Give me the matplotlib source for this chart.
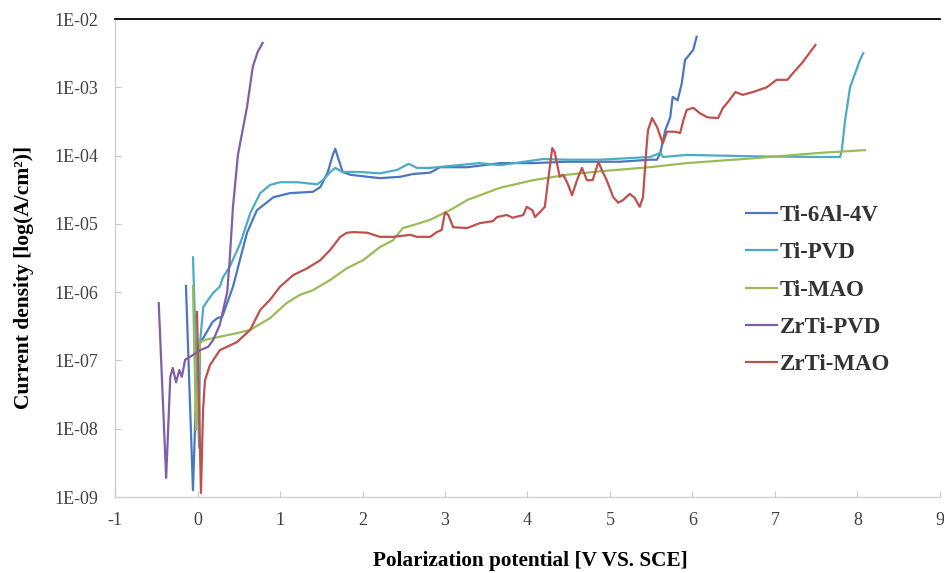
import numpy as np
import matplotlib
matplotlib.use("Agg")
import matplotlib.pyplot as plt

# potential (V vs SCE) and log10 of current density (A/cm2)
ti64_v = [-0.14, -0.055, -0.02, 0.02, 0.09, 0.18, 0.24, 0.30, 0.43, 0.60, 0.72, 0.92,
          1.12, 1.40, 1.49, 1.58, 1.64, 1.67, 1.70, 1.76, 1.85, 2.06, 2.21, 2.46, 2.61,
          2.82, 2.94, 3.27, 3.67, 4.07, 4.48, 4.88, 5.12, 5.49, 5.57, 5.61, 5.67, 5.73,
          5.76, 5.82, 5.87, 5.91, 6.01, 6.05]
ti64_log = [-5.91, -8.90, -7.60, -6.77, -6.63, -6.44, -6.38, -6.36, -5.92, -5.13, -4.80, -4.61,
            -4.55, -4.53, -4.46, -4.24, -3.99, -3.90, -4.02, -4.24, -4.28, -4.31, -4.33, -4.31, -4.27,
            -4.25, -4.17, -4.17, -4.11, -4.11, -4.09, -4.09, -4.09, -4.06, -4.06, -3.96, -3.63, -3.44,
            -3.14, -3.19, -2.94, -2.60, -2.45, -2.26]

tipvd_v = [-0.055, 0.02, 0.03, 0.07, 0.13, 0.19, 0.27, 0.31, 0.39, 0.52, 0.64, 0.76, 0.88,
           1.00, 1.21, 1.45, 1.52, 1.61, 1.67, 1.76, 1.97, 2.21, 2.42, 2.56, 2.66, 2.82,
           3.42, 3.67, 4.19, 4.48, 4.88, 5.49, 5.61, 5.64, 5.93, 6.73, 7.46, 7.79, 7.81,
           7.85, 7.91, 8.03, 8.07]
tipvd_log = [-5.49, -8.28, -6.74, -6.22, -6.11, -6.01, -5.92, -5.78, -5.63, -5.28, -4.84, -4.55, -4.43,
             -4.39, -4.39, -4.42, -4.36, -4.24, -4.18, -4.24, -4.24, -4.26, -4.21, -4.12, -4.18, -4.18,
             -4.11, -4.14, -4.05, -4.06, -4.06, -4.02, -3.96, -4.02, -3.99, -4.01, -4.02, -4.02, -3.92,
             -3.48, -3.00, -2.60, -2.50]

timao_v = [-0.055, -0.018, 0.03, 0.09, 0.24, 0.48, 0.64, 0.88, 1.08, 1.24, 1.40, 1.61, 1.81,
           2.01, 2.21, 2.37, 2.49, 2.61, 2.82, 3.06, 3.27, 3.67, 4.07, 4.48, 4.88, 5.48,
           5.93, 6.73, 7.55, 8.09]
timao_log = [-5.91, -8.02, -6.73, -6.70, -6.66, -6.60, -6.55, -6.38, -6.16, -6.04, -5.97, -5.82, -5.65,
             -5.53, -5.34, -5.24, -5.06, -5.02, -4.94, -4.80, -4.65, -4.47, -4.36, -4.28, -4.23, -4.17,
             -4.11, -4.04, -3.96, -3.92]

zrpvd_v = [-0.47, -0.38, -0.33, -0.30, -0.26, -0.22, -0.19, -0.15, -0.055, 0.03, 0.13, 0.19,
           0.27, 0.36, 0.39, 0.43, 0.49, 0.60, 0.67, 0.73, 0.79]
zrpvd_log = [-6.16, -8.72, -7.24, -7.11, -7.32, -7.14, -7.24, -6.99, -6.92, -6.85, -6.80, -6.70,
             -6.48, -6.00, -5.53, -4.75, -3.99, -3.29, -2.70, -2.48, -2.35]

zrmao_v = [-0.006, 0.042, 0.067, 0.091, 0.15, 0.27, 0.48, 0.64, 0.76, 0.88, 1.00, 1.16, 1.33,
           1.49, 1.61, 1.73, 1.81, 1.89, 2.06, 2.21, 2.37, 2.58, 2.66, 2.82, 2.90, 2.96,
           3.00, 3.04, 3.10, 3.27, 3.42, 3.58, 3.63, 3.75, 3.82, 3.95, 3.99, 4.06, 4.09,
           4.15, 4.21, 4.25, 4.30, 4.33, 4.39, 4.43, 4.48, 4.54, 4.60, 4.66, 4.72, 4.79,
           4.86, 4.90, 4.96, 5.04, 5.10, 5.16, 5.24, 5.30, 5.36, 5.40, 5.44, 5.46, 5.51,
           5.57, 5.64, 5.69, 5.79, 5.85, 5.89, 5.93, 6.01, 6.09, 6.18, 6.31, 6.37, 6.42,
           6.52, 6.61, 6.73, 6.90, 7.02, 7.15, 7.22, 7.33, 7.49]
zrmao_log = [-6.29, -8.94, -7.73, -7.29, -7.07, -6.85, -6.73, -6.55, -6.26, -6.11, -5.92, -5.75, -5.65,
             -5.53, -5.38, -5.19, -5.13, -5.12, -5.13, -5.19, -5.19, -5.16, -5.19, -5.19, -5.12, -5.09,
             -4.83, -4.87, -5.05, -5.06, -4.99, -4.96, -4.90, -4.87, -4.91, -4.87, -4.75, -4.80, -4.90,
             -4.83, -4.75, -4.36, -3.89, -3.95, -4.31, -4.28, -4.39, -4.58, -4.36, -4.18, -4.36, -4.36,
             -4.09, -4.21, -4.36, -4.61, -4.69, -4.65, -4.56, -4.62, -4.75, -4.61, -3.92, -3.63, -3.45,
             -3.58, -3.82, -3.65, -3.65, -3.67, -3.48, -3.33, -3.30, -3.38, -3.44, -3.45, -3.30, -3.23,
             -3.07, -3.11, -3.07, -3.00, -2.89, -2.89, -2.79, -2.64, -2.38]

series = [
    ("Ti-6Al-4V", ti64_v, ti64_log, "#4a78c0"),
    ("Ti-PVD", tipvd_v, tipvd_log, "#4bacc6"),
    ("Ti-MAO", timao_v, timao_log, "#9bbb59"),
    ("ZrTi-PVD", zrpvd_v, zrpvd_log, "#7f5fa6"),
    ("ZrTi-MAO", zrmao_v, zrmao_log, "#c0504d"),
]

plt.rcParams["font.family"] = ["Liberation Serif", "DejaVu Serif"]
plt.rcParams["axes.unicode_minus"] = False

fig = plt.figure(figsize=(9.45, 5.73), dpi=100)
ax = fig.add_axes([0.1217, 0.1326, 0.873, 0.8342])

for name, v, lg, col in series:
    ax.plot(v, 10 ** np.array(lg), color=col, lw=1.6, label=name)

ax.set_yscale("log")
ax.set_xlim(-1, 9)
ax.set_ylim(1e-9, 1e-2)

yt = [1e-9, 1e-8, 1e-7, 1e-6, 1e-5, 1e-4, 1e-3, 1e-2]
ax.set_yticks(yt)
ax.set_yticklabels(["1E-09", "1E-08", "1E-07", "1E-06", "1E-05", "1E-04", "1E-03", "1E-02"])
ax.yaxis.set_minor_locator(matplotlib.ticker.NullLocator())
ax.set_xticks(range(-1, 10))

ax.tick_params(axis="both", direction="in", length=4, width=0.8, color="#c8c8c8",
               labelsize=13, labelcolor="#404040")
ax.tick_params(axis="y", pad=12)
ax.tick_params(axis="x", pad=11)

ax.spines["right"].set_visible(False)
ax.spines["top"].set_color("black")
ax.spines["top"].set_linewidth(1.3)
for s in ["left", "bottom"]:
    ax.spines[s].set_color("#d0d0d0")
    ax.spines[s].set_linewidth(1.0)

ax.set_xlabel("Polarization potential [V VS. SCE]", fontsize=15.3, fontweight="bold", color="black")
ax.set_ylabel("Current density [log(A/cm²)]", fontsize=15.5, fontweight="bold", color="black")
ax.xaxis.set_label_coords(0.503, -0.113)
ax.yaxis.set_label_coords(-0.098, 0.46)

leg = ax.legend(loc="upper left", bbox_to_anchor=(0.765, 0.611), frameon=False,
                borderpad=0, borderaxespad=0, handlelength=1.35, handletextpad=0.12,
                labelspacing=0.71, prop={"family": "Liberation Serif", "weight": "bold", "size": 16.5})
for t in leg.get_texts():
    t.set_color("#333333")

fig.savefig("out.png", dpi=100, facecolor="white")
